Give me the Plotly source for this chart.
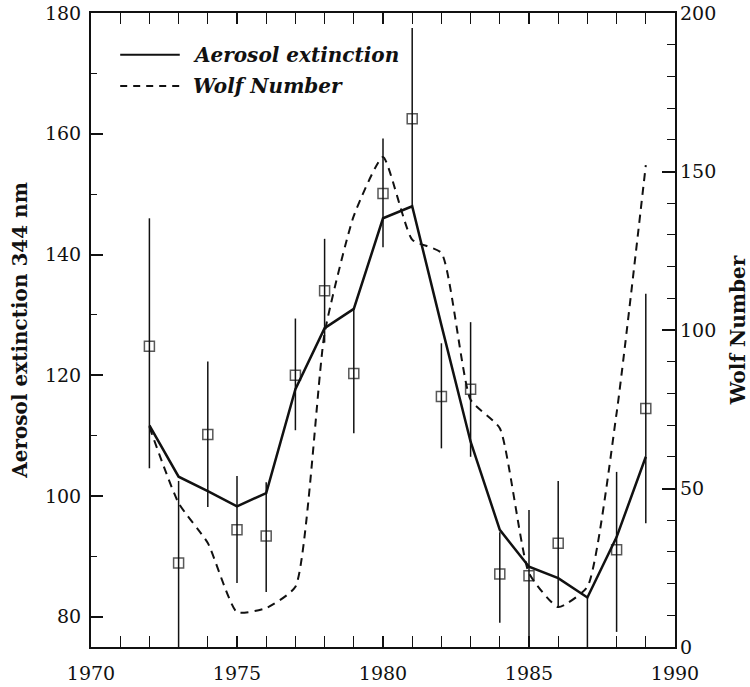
import plotly.graph_objects as go

years = list(range(1972, 1990))

# observed aerosol extinction (squares) with error bars; 1987 centre lies below the axis
aer_obs = [124.8, 88.9, 110.2, 94.4, 93.4, 120.0, 134.0, 120.3, 150.1, 162.5,
           116.5, 117.7, 87.1, 86.8, 92.2, 70.0, 91.1, 114.5]
aer_err_plus = [21.2, 13.6, 12.1, 8.9, 8.9, 9.4, 8.6, 10.7, 9.1, 15.0,
                8.8, 11.1, 6.9, 10.9, 10.3, 13.2, 12.9, 19.0]
aer_err_minus = [20.2, 13.9, 12.0, 8.8, 9.3, 9.1, 8.6, 9.9, 8.9, 14.5,
                 8.6, 11.2, 8.1, 11.8, 10.5, 13.0, 13.6, 19.0]

# aerosol extinction curve (solid)
aer_fit = [111.7, 103.2, 100.8, 98.3, 100.5, 117.7, 127.8, 131.0, 146.0, 148.0,
           128.3, 109.0, 94.4, 88.3, 86.4, 83.2, 93.2, 106.5]

# Wolf number (dashed, right axis)
wolf = [69.4, 45.4, 32.8, 11.0, 12.3, 19.0, 99.0, 136.0, 154.6, 128.5,
        124.3, 78.0, 69.0, 23.3, 12.6, 19.0, 73.8, 152.0]

x_ticks = [1970, 1975, 1980, 1985, 1990]
y_ticks = [80, 100, 120, 140, 160, 180]
y2_ticks = [0, 50, 100, 150, 200]

Y_MIN, Y_MAX = 75, 180
marker_sizes = [10 if v >= Y_MIN else 0 for v in aer_obs]

TICK_FONT = dict(family="DejaVu Serif", size=19, color="#111")
TITLE_FONT = dict(family="DejaVu Serif", size=20, color="#111", weight="bold")
LEG_FONT = dict(family="DejaVu Serif", size=20, color="#111", weight="bold", style="italic")

fig = go.Figure()

fig.add_trace(go.Scatter(
    x=years, y=wolf, yaxis="y2", mode="lines", name="Wolf Number",
    line=dict(color="#111", width=2, dash="8px,6px", shape="spline", smoothing=0.5),
    showlegend=False,
))
fig.add_trace(go.Scatter(
    x=years, y=aer_fit, mode="lines", name="Aerosol extinction",
    line=dict(color="#111", width=2.5),
    showlegend=False,
))
fig.add_trace(go.Scatter(
    x=years, y=aer_obs, mode="markers", name="observations",
    marker=dict(symbol="square-open", size=marker_sizes, color="#111",
                line=dict(width=1.5, color="#111")),
    error_y=dict(type="data", array=aer_err_plus, arrayminus=aer_err_minus,
                 thickness=1.5, width=0, color="#111"),
    cliponaxis=False,
    showlegend=False,
))

# legend drawn as line samples + text
leg_items = [("Aerosol extinction", "solid", 0.934), ("Wolf Number", "7px,6px", 0.885)]
for label, dash, yy in leg_items:
    fig.add_shape(type="line", xref="paper", yref="paper", x0=0.05, x1=0.152, y0=yy, y1=yy,
                  line=dict(color="#111", width=2, dash=dash))
    fig.add_annotation(xref="paper", yref="paper", x=0.172, y=yy, text=label,
                       showarrow=False, xanchor="left", yanchor="middle", font=LEG_FONT)

fig.update_layout(
    width=750, height=687,
    margin=dict(l=91, r=75, t=13, b=40, autoexpand=False),
    paper_bgcolor="white", plot_bgcolor="white",
    xaxis=dict(range=[1970, 1990], tickvals=x_ticks, ticks="inside", ticklen=11,
               tickwidth=1.5, tickcolor="#111", showline=True, linecolor="#111",
               linewidth=2, mirror="allticks", showgrid=False, zeroline=False,
               tickfont=TICK_FONT, ticklabelstandoff=8, automargin=False,
               ticklabeloverflow="allow",
               minor=dict(dtick=1, tick0=1970, ticks="inside", ticklen=7,
                          tickcolor="#111", tickwidth=1.2, showgrid=False)),
    yaxis=dict(range=[Y_MIN, Y_MAX], tickvals=y_ticks, ticks="inside", ticklen=12,
               tickwidth=1.5, tickcolor="#111", showline=True, linecolor="#111",
               linewidth=2, mirror=True, showgrid=False, zeroline=False,
               tickfont=TICK_FONT, ticklabelstandoff=4, automargin=False,
               ticklabeloverflow="allow",
               title=dict(text="Aerosol extinction 344 nm", font=TITLE_FONT, standoff=12),
               minor=dict(dtick=10, tick0=80, ticks="inside", ticklen=6,
                          tickcolor="#111", tickwidth=1.2, showgrid=False)),
    yaxis2=dict(range=[0, 200], tickvals=y2_ticks, overlaying="y", side="right",
                ticks="inside", ticklen=13, tickwidth=1.5, tickcolor="#111",
                showline=False, showgrid=False, zeroline=False, automargin=False,
                tickfont=TICK_FONT, ticklabelstandoff=4, ticklabeloverflow="allow",
                title=dict(text="Wolf Number", font=TITLE_FONT, standoff=15),
                minor=dict(dtick=10, tick0=0, ticks="inside", ticklen=8,
                           tickcolor="#111", tickwidth=1.2, showgrid=False)),
)

# remove the browser's default 8px body margin so the figure fills the window
fig.write_html("out.html", config={"displayModeBar": False},
               post_script="document.body.style.margin='0';")
